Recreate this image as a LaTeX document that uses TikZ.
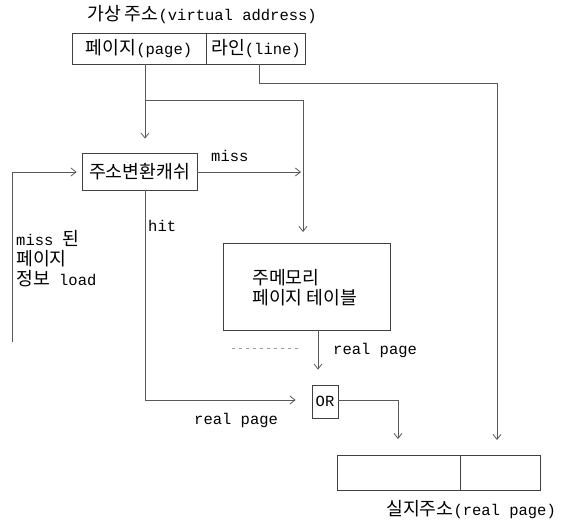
\documentclass[tikz,border=0pt]{standalone}
\usepackage{fontspec}
\setmainfont{Liberation Mono}
\newfontfamily\kr[Scale=1.18]{Noto Sans CJK KR}
\usetikzlibrary{arrows.meta}
\begin{document}
\begin{tikzpicture}[x=1pt,y=-1pt,
  every node/.style={font=\fontsize{15.5}{20}\selectfont, inner sep=0pt},
  boxline/.style={draw=black!75, line width=0.8pt},
  conn/.style={draw=black!65, line width=0.8pt},
  arr/.style={conn, -{Straight Barb[length=5pt,width=8pt]}},
  lbl/.style={anchor=west},
  faint/.style={draw=black!40, line width=0.6pt, dash pattern=on 3pt off 4pt}]
\useasboundingbox (0,0) rectangle (565,523);

% title
\node[lbl] (title) at (87,15) {{\kr 가상 주소}(virtual address)};

% virtual address box
\draw[boxline] (72,33) rectangle (305,64);
\draw[boxline] (206,33) -- (206,64);
\node (pagecell) at (139,49) {{\kr 페이지}(page)};
\node (linecell) at (256,49) {{\kr 라인}(line)};
\coordinate (pageB) at (145,64);
\coordinate (lineB) at (259,64);

% address translation cache
\node[boxline, minimum width=115pt, minimum height=37pt] (cache) at (139.5,171.5) {\kr 주소변환캐쉬};

% main memory page table
\draw[boxline] (223,243) rectangle (390,330);
\coordinate (memT) at (303,243);
\coordinate (memB) at (318,330);
\node[lbl, align=left] (memtxt) at (252,288) {\kr 주메모리\\\kr 페이지 테이블};

% OR box
\node[boxline, minimum width=26pt, minimum height=33pt] (or) at (325,401.5) {OR};

% real address box
\draw[boxline] (337,455) rectangle (540,490);
\draw[boxline] (460,455) -- (460,490);
\coordinate (realL) at (398,455);
\coordinate (realR) at (497,455);
\node[lbl] (realtxt) at (386,510) {{\kr 실지주소}(real page)};

% connectors
\coordinate (br) at (145,100);
\draw[arr, shorten >=14pt] (pageB) -- (cache.north -| pageB);
\draw[arr, shorten >=11pt] (br) -| (memT);
\coordinate (missend) at (301,172);
\draw[arr] (cache.east |- missend) -- (missend);
\node[lbl] (misslbl) at (211,156) {miss};

\coordinate (l1) at (259,83);
\draw[arr, shorten >=15pt] (lineB) -- (l1) -| (realR);

\coordinate (lb) at (12,342);
\coordinate (lt) at (12,172);
\draw[arr, shorten >=5pt] (lb) -- (lt) -- (cache.west |- lt);

\coordinate (hc) at (145,400);
\draw[arr, shorten >=16pt] (cache.south -| hc) -- (hc) -- (or.west |- hc);
\node[lbl] (hitlbl) at (148,226) {hit};
\node[lbl] (rp1) at (194,420) {real page};

\draw[arr, shorten >=15pt] (memB) -- (or.north -| memB);
\node[lbl] (rp2) at (333,350) {real page};
\draw[faint] (232,348) -- (300,348);

\coordinate (oc) at (398,400);
\draw[arr, shorten >=16pt] (or.east |- oc) -- (oc) -- (realL);

% left note
\node[lbl, align=left] (note) at (16,259) {miss {\kr 된}\\{\kr 페이지}\\{\kr 정보} load};
\end{tikzpicture}
\end{document}
